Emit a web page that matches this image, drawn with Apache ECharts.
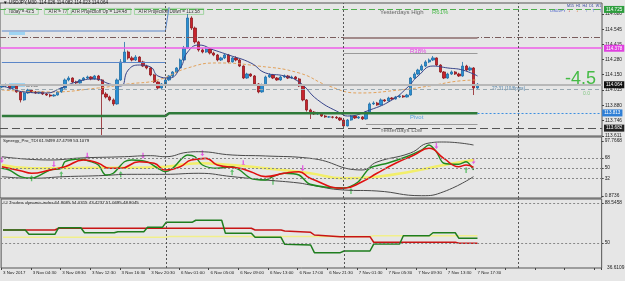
<!DOCTYPE html>
<html>
<head>
<meta charset="utf-8">
<script src="https://cdn.jsdelivr.net/npm/echarts@6/dist/echarts.min.js"></script>
<style>
  html, body { margin: 0; padding: 0; background: #e6e6e6; }
  #chart { width: 625px; height: 281px; }
</style>
</head>
<body>
<div id="chart"></div>
<script>
// USDJPY M30 candles: [open, close, low, high]
const candles = [
  [114.040, 114.049, 114.030, 114.066], [114.049, 114.058, 114.040, 114.070], [114.058, 114.032, 114.025, 114.066],
  [114.032, 114.049, 114.020, 114.058], [114.049, 113.997, 113.990, 114.055], [113.997, 113.927, 113.905, 114.005],
  [113.927, 113.988, 113.920, 113.995], [113.988, 114.014, 113.980, 114.025], [114.014, 113.997, 113.990, 114.020],
  [113.997, 113.988, 113.980, 114.005], [113.988, 113.997, 113.980, 114.005], [113.997, 113.979, 113.970, 114.003],
  [113.979, 113.970, 113.962, 113.988], [113.970, 113.962, 113.950, 113.980], [113.962, 113.970, 113.955, 113.978],
  [113.970, 113.997, 113.965, 114.005], [113.997, 114.032, 113.990, 114.040], [114.032, 114.102, 114.025, 114.115],
  [114.102, 114.119, 114.090, 114.135], [114.119, 114.084, 114.075, 114.125], [114.084, 114.076, 114.065, 114.095],
  [114.076, 114.102, 114.070, 114.110], [114.102, 114.119, 114.095, 114.128], [114.119, 114.128, 114.110, 114.140],
  [114.128, 114.111, 114.100, 114.135], [114.111, 114.137, 114.105, 114.146], [114.137, 114.102, 114.095, 114.146],
  [114.102, 113.979, 113.620, 114.110], [113.979, 113.953, 113.940, 113.995], [113.953, 113.927, 113.915, 113.965],
  [113.927, 113.892, 113.875, 113.940], [113.892, 114.102, 113.885, 114.115], [114.102, 114.260, 114.095, 114.285],
  [114.260, 114.347, 114.250, 114.435], [114.347, 114.295, 114.280, 114.360], [114.295, 114.277, 114.265, 114.310],
  [114.277, 114.303, 114.268, 114.320], [114.303, 114.260, 114.250, 114.310], [114.260, 114.224, 114.215, 114.270],
  [114.224, 114.207, 114.195, 114.235], [114.207, 114.146, 114.135, 114.215], [114.146, 114.084, 114.075, 114.155],
  [114.084, 114.032, 114.020, 114.090], [114.032, 114.067, 114.025, 114.075], [114.067, 114.102, 114.060, 114.110],
  [114.102, 114.137, 114.095, 114.146], [114.137, 114.172, 114.128, 114.180], [114.172, 114.207, 114.165, 114.215],
  [114.207, 114.277, 114.200, 114.290], [114.277, 114.382, 114.270, 114.400], [114.382, 114.645, 114.375, 114.680],
  [114.645, 114.557, 114.540, 114.660], [114.557, 114.435, 114.420, 114.570], [114.435, 114.365, 114.350, 114.445],
  [114.365, 114.347, 114.335, 114.380], [114.347, 114.373, 114.340, 114.385], [114.373, 114.338, 114.325, 114.382],
  [114.338, 114.321, 114.310, 114.350], [114.321, 114.277, 114.265, 114.330], [114.277, 114.295, 114.268, 114.305],
  [114.295, 114.321, 114.285, 114.330], [114.321, 114.260, 114.250, 114.330], [114.260, 114.295, 114.255, 114.305],
  [114.295, 114.277, 114.265, 114.310], [114.277, 114.224, 114.215, 114.285], [114.224, 114.119, 114.110, 114.230],
  [114.119, 114.154, 114.112, 114.165], [114.154, 114.137, 114.128, 114.160], [114.137, 114.067, 114.055, 114.145],
  [114.067, 113.997, 113.985, 114.075], [113.997, 114.058, 113.990, 114.070], [114.058, 114.128, 114.050, 114.140],
  [114.128, 114.146, 114.120, 114.160], [114.146, 114.119, 114.110, 114.155], [114.119, 114.102, 114.095, 114.128],
  [114.102, 114.128, 114.095, 114.137], [114.128, 114.137, 114.120, 114.150], [114.137, 114.119, 114.110, 114.146],
  [114.119, 114.128, 114.112, 114.140], [114.128, 114.111, 114.100, 114.137], [114.111, 114.049, 114.040, 114.120],
  [114.049, 113.927, 113.915, 114.058], [113.927, 113.839, 113.825, 113.935], [113.839, 113.821, 113.760, 113.850],
  [113.821, 113.804, 113.795, 113.830], [113.804, 113.813, 113.795, 113.822], [113.813, 113.786, 113.778, 113.820],
  [113.786, 113.778, 113.770, 113.795], [113.778, 113.778, 113.770, 113.786], [113.778, 113.775, 113.765, 113.786],
  [113.775, 113.769, 113.760, 113.786], [113.769, 113.751, 113.742, 113.778], [113.751, 113.699, 113.690, 113.760],
  [113.699, 113.751, 113.695, 113.760], [113.751, 113.786, 113.745, 113.795], [113.786, 113.769, 113.760, 113.795],
  [113.769, 113.778, 113.760, 113.786], [113.778, 113.760, 113.751, 113.786], [113.760, 113.821, 113.755, 113.830],
  [113.821, 113.892, 113.815, 113.905], [113.892, 113.900, 113.883, 113.915], [113.900, 113.883, 113.875, 113.910],
  [113.883, 113.927, 113.878, 113.940], [113.927, 113.918, 113.910, 113.935], [113.918, 113.944, 113.912, 113.955],
  [113.944, 113.935, 113.927, 113.952], [113.935, 113.953, 113.930, 113.962], [113.953, 113.962, 113.945, 113.970],
  [113.962, 113.953, 113.945, 113.970], [113.953, 113.970, 113.948, 113.980], [113.970, 114.119, 113.965, 114.128],
  [114.119, 114.154, 114.110, 114.170], [114.154, 114.189, 114.145, 114.200], [114.189, 114.224, 114.180, 114.240],
  [114.224, 114.260, 114.215, 114.275], [114.260, 114.277, 114.250, 114.290], [114.277, 114.295, 114.268, 114.312],
  [114.295, 114.233, 114.225, 114.300], [114.233, 114.172, 114.165, 114.240], [114.172, 114.119, 114.110, 114.180],
  [114.119, 114.154, 114.112, 114.165], [114.154, 114.172, 114.146, 114.185], [114.172, 114.154, 114.146, 114.180],
  [114.154, 114.137, 114.128, 114.165], [114.137, 114.224, 114.130, 114.260], [114.224, 114.189, 114.180, 114.235],
  [114.189, 114.207, 114.180, 114.220], [114.207, 114.032, 113.970, 114.215], [114.032, 114.064, 114.025, 114.075]
];

const timeLabels = ['3 Nov 2017', '3 Nov 04:30', '3 Nov 08:30', '3 Nov 12:30', '3 Nov 16:30', '3 Nov 20:30',
  '6 Nov 01:00', '6 Nov 05:00', '6 Nov 09:00', '6 Nov 13:00', '6 Nov 17:00', '6 Nov 21:30',
  '7 Nov 01:30', '7 Nov 05:30', '7 Nov 09:30', '7 Nov 13:30', '7 Nov 17:30'];
const slotCount = 162;

const priceTicks = [114.680, 114.545, 114.415, 114.280, 114.150, 114.015, 113.880, 113.746, 113.611];
const oscTicks = [0.8736, 32, 50, 68, 97.7668];
const tdiTicks = [50, 88.5458];

// moving averages: [bar, price]
const maFast = [[0, 114.049], [2, 114.032], [6, 113.997], [12, 113.988], [16, 114.032], [20, 114.084], [25, 114.111],
  [29, 114.067], [32, 114.049], [34, 114.189], [37, 114.233], [40, 114.216], [42, 114.137], [45, 114.119],
  [48, 114.207], [50, 114.347], [53, 114.408], [57, 114.365], [61, 114.321], [67, 114.251], [71, 114.163],
  [76, 114.137], [80, 114.084], [85, 113.927], [91, 113.813], [93, 113.786], [99, 113.839], [105, 113.927],
  [109, 114.032], [112, 114.137], [116, 114.224], [120, 114.207], [124, 114.189], [128, 114.137]];
const maSlow = [[0, 114.014], [13, 113.997], [26, 114.032], [34, 114.067], [42, 114.102], [50, 114.207],
  [58, 114.251], [69, 114.224], [80, 114.163], [88, 114.049], [96, 113.988], [107, 114.014], [115, 114.049],
  [123, 114.093], [128, 114.102]];
const atrUpper = [[0, 114.531], [44, 114.531], [45, 114.740]];
const atrLower = [[0, 114.255], [44, 114.255]];
const pivotLine = [[0, 113.786], [44, 113.786], [45, 113.810], [128, 113.810]];

// levels
const yesterdayHigh = 114.725;
const atrProjUp = 114.48;
const r61Seg = 114.474;
const magentaLevel = 114.378;
const r38Seg = 114.338;
const bidPrice = 114.064;
const timerLevel = 114.020;
const pivotPrice = 113.813;
const lowSeg = 113.716;
const yesterdayLow = 113.682;
const daySeparators = [44, 92, 139];

// Synergy_Pro_TDI window
const oscUpper = [[0, 70.1], [13, 64.3], [21, 67.8], [33, 70.1], [40, 71.9], [44, 70.1], [50, 77.9], [53, 78.9],
  [62, 73.1], [71, 71.4], [83, 67.3], [97, 46.7], [101, 60.8], [110, 76.6], [115, 94.2], [119, 96.0], [127, 90.7]];
const oscLower = [[0, 35], [8, 32.1], [17, 35], [26, 36.6], [35, 39.1], [44, 39.1], [53, 40.9], [62, 35],
  [71, 29.1], [80, 23.8], [83, 20.3], [92, 11.5], [101, 9.7], [113, 1.4], [119, 8.5], [127, 35]];
const oscBase = [[0, 55.5], [8, 49.7], [26, 50.8], [35, 50.8], [44, 52.5], [53, 58.5], [62, 55.5], [71, 49.7],
  [83, 40.9], [92, 32.1], [101, 35], [110, 43.7], [119, 55.5], [127, 64.3]];
const oscPrice = [[0, 49.7], [2, 46.7], [5, 35], [8, 32.1], [13, 46.7], [16, 49.7], [17, 61.3], [21, 66.1],
  [24, 61.3], [26, 55.5], [28, 37.9], [30, 40.9], [33, 61.3], [35, 64.3], [39, 61.3], [42, 49.7], [44, 43.7],
  [46, 49.7], [50, 73.1], [52, 70.1], [54, 55.5], [58, 49.7], [62, 52.5], [64, 46.7], [67, 32.1], [71, 29.1],
  [73, 35], [76, 40.9], [80, 37.9], [83, 21.5], [92, 15], [96, 26.1], [99, 49.7], [104, 59.0], [108, 67.8],
  [113, 81.9], [115, 90.7], [117, 78.9], [119, 58.5], [123, 56.7], [125, 61.3], [127, 46.7]];
const oscSignal = [[0, 52.5], [5, 45.5], [8, 40.9], [13, 46.7], [17, 52.5], [22, 64.3], [26, 58.5], [29, 49.7],
  [32, 49.7], [37, 61.3], [41, 58.5], [44, 46.7], [48, 52.5], [51, 64.3], [55, 67.2], [58, 55.5], [64, 49.7],
  [67, 43.7], [71, 35], [76, 40.9], [80, 43.7], [83, 32.1], [92, 14.5], [97, 26.1], [101, 40.9], [106, 58.5],
  [111, 73.1], [115, 84.9], [119, 67.2], [123, 52.5], [125, 55.5], [127, 51.4]];
const sellArrows = [[0, 64.3], [14, 56.7], [23, 71.9], [38, 71.9], [54, 76.1], [65, 58.5], [81, 49.7], [117, 89], [127, 62.5]];
const buyArrows = [[8, 32.1], [16, 39.1], [32, 39.1], [62, 42.6], [73, 26.1], [94, 9.7], [125, 46.7]];
const oscLevels = [32, 50, 68];

// Traders dynamic index window (H4 steps)
const tdiGreen = [[0, 62.5], [6, 62.5], [7, 58.4], [14, 58.4], [15, 64.7], [21, 64.7], [22, 59.9], [30, 59.9],
  [31, 60.9], [38, 60.9], [39, 65.1], [43, 65.1], [44, 69.9], [51, 69.9], [52, 71.9], [59, 71.9], [60, 59.3],
  [67, 59.3], [68, 55.5], [75, 55.5], [76, 48.7], [83, 48.1], [84, 40.7], [91, 40.7], [92, 42.3], [99, 42.3],
  [100, 49.0], [107, 49.0], [108, 57.0], [115, 57.0], [116, 59.9], [122, 59.9], [123, 54.5], [128, 54.5]];
const tdiRed = [[0, 62.5], [14, 62.5], [15, 64.2], [67, 64.2], [68, 62.5], [75, 62.5], [76, 61.6], [83, 60.3],
  [84, 57.7], [91, 56.1], [99, 56.1], [100, 50.7], [122, 50.7], [123, 49.7], [128, 49.7]];
const tdiYellow = [[0, 55.5], [44, 55.5], [45, 56.2], [99, 56.2], [100, 57.0], [128, 57.0]];
const tdiLevels = [50, 88.5458];

const cats = Array.from({ length: slotCount }, (_, i) => i);
const FONT = 'Liberation Sans';

const chart = echarts.init(document.getElementById('chart'), null, { renderer: 'canvas' });

function hLevel(value, color, type, width, boxColor) {
  const item = { yAxis: value, lineStyle: { color: color, type: type, width: width } };
  if (boxColor) {
    item.label = {
      show: true, position: 'end', distance: 2, formatter: value.toFixed(3),
      color: '#fff', backgroundColor: boxColor, padding: [1, 2], fontSize: 4.6, fontFamily: FONT
    };
  }
  return item;
}
function segment(from, to, value, color, type, width) {
  return [
    { coord: [from, value], lineStyle: { color: color, type: type, width: width } },
    { coord: [to, value] }
  ];
}
function levelLines(levels) {
  return levels.map((v) => ({ yAxis: v, lineStyle: { color: '#888', type: [2, 2], width: 1 } }));
}
function dayLines() {
  return daySeparators.map((d) => ({ xAxis: d, lineStyle: { color: '#555', type: [2, 2], width: 1 } }));
}

const gridBase = { left: 0, right: 21, show: true, backgroundColor: '#e6e6e6', borderColor: '#555', borderWidth: 1 };
const xBase = {
  type: 'category', data: cats, boundaryGap: true,
  axisLine: { show: false }, axisTick: { show: false }, axisLabel: { show: false }, splitLine: { show: false }
};
function yBase(min, max, ticks, fmt) {
  return {
    type: 'value', position: 'right', min: min, max: max, scale: true,
    axisLine: { show: false }, splitLine: { show: false },
    axisTick: { show: true, length: 2, customValues: ticks, lineStyle: { color: '#444' } },
    axisLabel: { customValues: ticks, formatter: fmt, fontSize: 4.8, color: '#222', margin: 3, fontFamily: FONT }
  };
}

const option = {
  animation: false,
  backgroundColor: '#e6e6e6',
  grid: [
    Object.assign({ top: 3, height: 133 }, gridBase),
    Object.assign({ top: 137, height: 61 }, gridBase),
    Object.assign({ top: 199, height: 69 }, gridBase)
  ],
  xAxis: [
    Object.assign({ gridIndex: 0 }, xBase),
    Object.assign({ gridIndex: 1 }, xBase),
    Object.assign({}, xBase, {
      gridIndex: 2,
      axisTick: { show: true, interval: 7, length: 2, lineStyle: { color: '#444' } },
      axisLabel: {
        show: true, interval: 7, align: 'left', margin: 3, fontSize: 4.4, color: '#222', fontFamily: FONT,
        formatter: (v, i) => timeLabels[i / 8] || ''
      }
    })
  ],
  yAxis: [
    Object.assign({ gridIndex: 0 }, yBase(113.611, 114.7764, priceTicks, (v) => v.toFixed(3))),
    Object.assign({ gridIndex: 1 }, yBase(-2.64, 104.82, oscTicks, (v) => String(v))),
    Object.assign({ gridIndex: 2 }, yBase(25.91, 92.40, tdiTicks, (v) => String(v)))
  ],
  series: [
    {
      type: 'candlestick', xAxisIndex: 0, yAxisIndex: 0, data: candles, barWidth: 2.8,
      itemStyle: { color: '#2a8fd4', color0: '#c8232c', borderColor: '#1f6fa6', borderColor0: '#8e1a1f', borderWidth: 0.8 },
      markLine: {
        silent: true, symbol: 'none', label: { show: false },
        data: [
          hLevel(yesterdayHigh, '#4fb04f', [6, 3], 1, '#2e9e3e'),
          hLevel(atrProjUp, '#7a5c5c', [6, 2, 1, 2], 1),
          hLevel(magentaLevel, '#ee5ee8', 'solid', 1.5, '#e040e0'),
          hLevel(bidPrice, '#b8b8b8', 'solid', 2, '#111'),
          hLevel(timerLevel, '#98a8b0', [4, 3], 1),
          hLevel(yesterdayLow, '#555', [8, 4], 1, '#222'),
          segment(92, 128, r61Seg, '#a28a8a', 'solid', 2),
          segment(92, 128, r38Seg, '#9a9a9a', 'solid', 1),
          segment(98, 128, lowSeg, '#9a9a9a', 'solid', 1),
          [
            { coord: [128, pivotPrice], lineStyle: { color: '#3d8fe0', type: [2, 2], width: 1 },
              label: { show: true, position: 'end', distance: 2, formatter: pivotPrice.toFixed(3), color: '#fff',
                backgroundColor: '#2f7fd6', padding: [1, 2], fontSize: 4.6, fontFamily: FONT } },
            { coord: [slotCount - 1, pivotPrice] }
          ]
        ].concat(dayLines())
      }
    },
    { type: 'line', xAxisIndex: 0, yAxisIndex: 0, data: maSlow, smooth: true, symbol: 'none',
      lineStyle: { color: '#e2a25c', width: 1, type: [3, 2] } },
    { type: 'line', xAxisIndex: 0, yAxisIndex: 0, data: maFast, smooth: true, symbol: 'none',
      lineStyle: { color: '#37448a', width: 1 } },
    { type: 'line', xAxisIndex: 0, yAxisIndex: 0, data: atrUpper, symbol: 'none', lineStyle: { color: '#5b86c8', width: 1 } },
    { type: 'line', xAxisIndex: 0, yAxisIndex: 0, data: atrLower, symbol: 'none', lineStyle: { color: '#5b86c8', width: 1 } },
    { type: 'line', xAxisIndex: 0, yAxisIndex: 0, data: pivotLine, symbol: 'none', lineStyle: { color: '#2f7a3a', width: 2.5 } },

    // Synergy_Pro_TDI
    { type: 'line', xAxisIndex: 1, yAxisIndex: 1, data: oscBase, smooth: true, symbol: 'none',
      lineStyle: { color: '#f2ee6a', width: 2.5 },
      markLine: { silent: true, symbol: 'none', label: { show: false }, data: levelLines(oscLevels).concat(dayLines()) } },
    { type: 'line', xAxisIndex: 1, yAxisIndex: 1, data: oscUpper, smooth: true, symbol: 'none', lineStyle: { color: '#4a4a4a', width: 1 } },
    { type: 'line', xAxisIndex: 1, yAxisIndex: 1, data: oscLower, smooth: true, symbol: 'none', lineStyle: { color: '#4a4a4a', width: 1 } },
    { type: 'line', xAxisIndex: 1, yAxisIndex: 1, data: oscPrice, smooth: 0.3, symbol: 'none', lineStyle: { color: '#1f8a1f', width: 1.4 } },
    { type: 'line', xAxisIndex: 1, yAxisIndex: 1, data: oscSignal, smooth: true, symbol: 'none', lineStyle: { color: '#e01010', width: 1.6 } },
    { type: 'scatter', xAxisIndex: 1, yAxisIndex: 1, data: sellArrows, symbol: 'path://M2,0 L4,0 L4,6 L6,6 L3,10 L0,6 L2,6 Z',
      symbolSize: [4, 6], itemStyle: { color: '#e23ee0' } },
    { type: 'scatter', xAxisIndex: 1, yAxisIndex: 1, data: buyArrows, symbol: 'path://M3,0 L6,4 L4,4 L4,10 L2,10 L2,4 L0,4 Z',
      symbolSize: [4, 6], itemStyle: { color: '#3cb44a' } },

    // Traders dynamic index
    { type: 'line', xAxisIndex: 2, yAxisIndex: 2, data: tdiYellow, symbol: 'none', lineStyle: { color: '#f1ef8c', width: 1.5 },
      markLine: { silent: true, symbol: 'none', label: { show: false }, data: levelLines(tdiLevels).concat(dayLines()) } },
    { type: 'line', xAxisIndex: 2, yAxisIndex: 2, data: tdiRed, symbol: 'none', lineStyle: { color: '#c81414', width: 1.5 } },
    { type: 'line', xAxisIndex: 2, yAxisIndex: 2, data: tdiGreen, symbol: 'none', lineStyle: { color: '#1e7d1e', width: 1.5 } }
  ],
  graphic: [
    { type: 'text', left: 3, top: 0.5, style: { text: '\u25BC USDJPY,M30  114.026 114.082 114.023 114.064', font: '4.6px ' + FONT, fill: '#111' } },
    { type: 'text', left: 4, top: 8, style: { text: 'Today = 43.5', font: '4.5px ' + FONT, fill: '#333', borderColor: '#8fcf8f', borderWidth: 0.8, padding: [0.5, 4] } },
    { type: 'text', left: 44, top: 8, style: { text: 'ATR = 77', font: '4.5px ' + FONT, fill: '#333', borderColor: '#8fcf8f', borderWidth: 0.8, padding: [0.5, 4] } },
    { type: 'text', left: 67, top: 8, style: { text: 'ATR Projection Up = 114.48', font: '4.5px ' + FONT, fill: '#333', borderColor: '#8fcf8f', borderWidth: 0.8, padding: [0.5, 4] } },
    { type: 'text', left: 134, top: 8, style: { text: 'ATR Projection Down = 113.58', font: '4.5px ' + FONT, fill: '#333', borderColor: '#8fcf8f', borderWidth: 0.8, padding: [0.5, 4] } },
    { type: 'rect', shape: { x: 9, y: 32, width: 16, height: 3 }, style: { fill: '#9fd4f2' } },
    { type: 'rect', shape: { x: 9, y: 83, width: 16, height: 4 }, style: { fill: '#9fd4f2' } },
    { type: 'text', left: 26, top: 83.5, style: { text: 'x8 1.00', font: '3.6px ' + FONT, fill: '#333' } },
    { type: 'text', left: 380, top: 9, style: { text: 'Yesterdays High', font: '6px ' + FONT, fill: '#666' } },
    { type: 'text', left: 432, top: 9, style: { text: 'R61%', font: '6px ' + FONT, fill: '#4dbb4d' } },
    { type: 'text', left: 410, top: 48, style: { text: 'R38%', font: '6px ' + FONT, fill: '#e040e0' } },
    { type: 'text', left: 410, top: 114, style: { text: 'Pivot', font: '6px ' + FONT, fill: '#58a2dc' } },
    { type: 'text', left: 380, top: 127.5, style: { text: 'Yesterdays Low', font: '6px ' + FONT, fill: '#666' } },
    { type: 'text', left: 492, top: 86.5, style: { text: '27:31 (10/6pips)', font: '4.6px ' + FONT, fill: '#4f81a8' } },
    { type: 'text', left: 565, top: 70, style: { text: '-4.5', font: '18px ' + FONT, fill: '#45bb45' } },
    { type: 'text', left: 583, top: 91, style: { text: '0.0', font: '5px ' + FONT, fill: '#86c986' } },
    { type: 'text', left: 550, top: 9, style: { text: 'USDJPY', font: '4px ' + FONT, fill: '#3a55c8' } },
    { type: 'text', left: 567, top: 4, style: { text: 'M15  H1  H4  D1  W1', font: '3.6px ' + FONT, fill: '#2a3a9a' } },
    { type: 'text', left: 568, top: 8, style: { text: '\u2193', font: 'bold 5px ' + FONT, fill: '#d83030' } },
    { type: 'text', left: 576, top: 8, style: { text: '\u2193', font: 'bold 5px ' + FONT, fill: '#e06020' } },
    { type: 'text', left: 585, top: 8, style: { text: '\u2191', font: 'bold 5px ' + FONT, fill: '#2a4ad0' } },
    { type: 'text', left: 592, top: 8, style: { text: '\u2191', font: 'bold 5px ' + FONT, fill: '#2a4ad0' } },
    { type: 'text', left: 599, top: 8, style: { text: '\u2191', font: 'bold 5px ' + FONT, fill: '#2a4ad0' } },
    { type: 'text', left: 3, top: 139, style: { text: 'Synergy_Pro_TDI 61.9499 47.4799 53.1079', font: '4.4px ' + FONT, fill: '#111' } },
    { type: 'text', left: 3, top: 201, style: { text: '## Traders dynamic index 64.8085 54.0315 43.4237 51.0695 48.8045', font: '4.4px ' + FONT, fill: '#111' } },
    { type: 'text', left: 607, top: 265.5, style: { text: '36.6109', font: '4.8px ' + FONT, fill: '#222' } }
  ]
};
chart.setOption(option);

window.addEventListener('resize', function () {
  chart.resize();
});
</script>
</body>
</html>
